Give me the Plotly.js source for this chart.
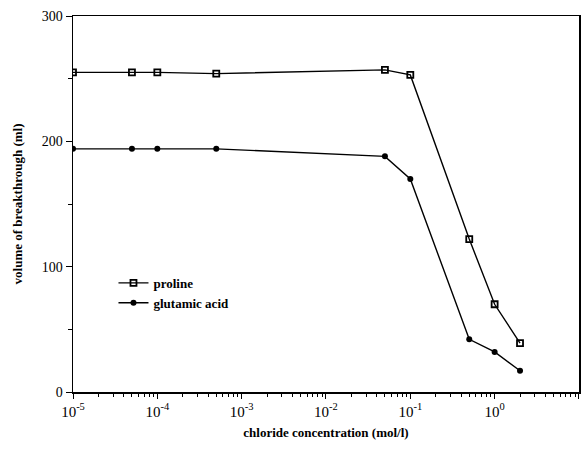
<!DOCTYPE html>
<html>
<head>
<meta charset="utf-8">
<script src="https://cdn.plot.ly/plotly-3.0.1.min.js"></script>
<style>html,body{margin:0;padding:0;background:#fff;}#chart{width:586px;height:452px;}</style>
</head>
<body>
<div id="chart"></div>
<script>
// chloride concentration (mol/l)
const concentration = [1e-5, 5e-5, 1e-4, 5e-4, 0.05, 0.1, 0.5, 1.0, 2.0];
// volume of breakthrough (ml)
const proline = [255, 255, 255, 254, 257, 253, 122, 70, 39];
const glutamicAcid = [194, 194, 194, 194, 188, 170, 42, 32, 17];
const seriesNames = ["proline", "glutamic acid"];
const xTickVals = [1e-5, 1e-4, 1e-3, 1e-2, 1e-1, 1, 10];
const xTickText = ["10<sup>-5</sup>", "10<sup>-4</sup>", "10<sup>-3</sup>", "10<sup>-2</sup>",
                   "10<sup>-1</sup>", "10<sup>0</sup>", "10"];

const serif = "Liberation Serif, Times New Roman, serif";

const traces = [
  {
    x: concentration, y: proline, name: seriesNames[0],
    type: "scatter", mode: "lines+markers",
    line: {color: "#000", width: 1.4},
    marker: {symbol: "square-open", size: 6, color: "#000", line: {color: "#000", width: 1.8}}
  },
  {
    x: concentration, y: glutamicAcid, name: seriesNames[1],
    type: "scatter", mode: "lines+markers",
    line: {color: "#000", width: 1.4},
    marker: {symbol: "circle", size: 6, color: "#000"}
  }
];

const layout = {
  width: 586, height: 452,
  margin: {l: 73, r: 7, t: 16, b: 60},
  paper_bgcolor: "#fff", plot_bgcolor: "#fff",
  showlegend: true,
  legend: {
    x: 0.08, y: 0.33, xanchor: "left", yanchor: "top",
    bgcolor: "rgba(0,0,0,0)",
    font: {family: serif, size: 13, color: "#000", weight: "bold"},
    tracegroupgap: 0
  },
  xaxis: {
    type: "log", range: [-5, 1.0005],
    tickmode: "array", tickvals: xTickVals, ticktext: xTickText,
    showgrid: false, zeroline: false,
    showline: true, linecolor: "#000", linewidth: 1.5, mirror: true,
    ticks: "outside", ticklen: 5, tickcolor: "#000",
    minor: {ticks: "outside", ticklen: 3, tickcolor: "#000", dtick: "D1", showgrid: false},
    tickfont: {family: serif, size: 15, color: "#000"},
    title: {text: "chloride concentration (mol/l)", standoff: 9,
            font: {family: serif, size: 13, color: "#000", weight: "bold"}}
  },
  yaxis: {
    range: [0, 300], dtick: 100,
    showgrid: false, zeroline: false,
    showline: true, linecolor: "#000", linewidth: 1.5, mirror: true,
    ticks: "outside", ticklen: 6, tickcolor: "#000",
    minor: {ticks: "outside", ticklen: 4, tickcolor: "#000", dtick: 50, showgrid: false},
    tickfont: {family: serif, size: 14, color: "#000"},
    title: {text: "volume of breakthrough (ml)", standoff: 16,
            font: {family: serif, size: 13, color: "#000", weight: "bold"}}
  }
};

Plotly.newPlot("chart", traces, layout, {displayModeBar: false, staticPlot: true});
</script>
</body>
</html>
